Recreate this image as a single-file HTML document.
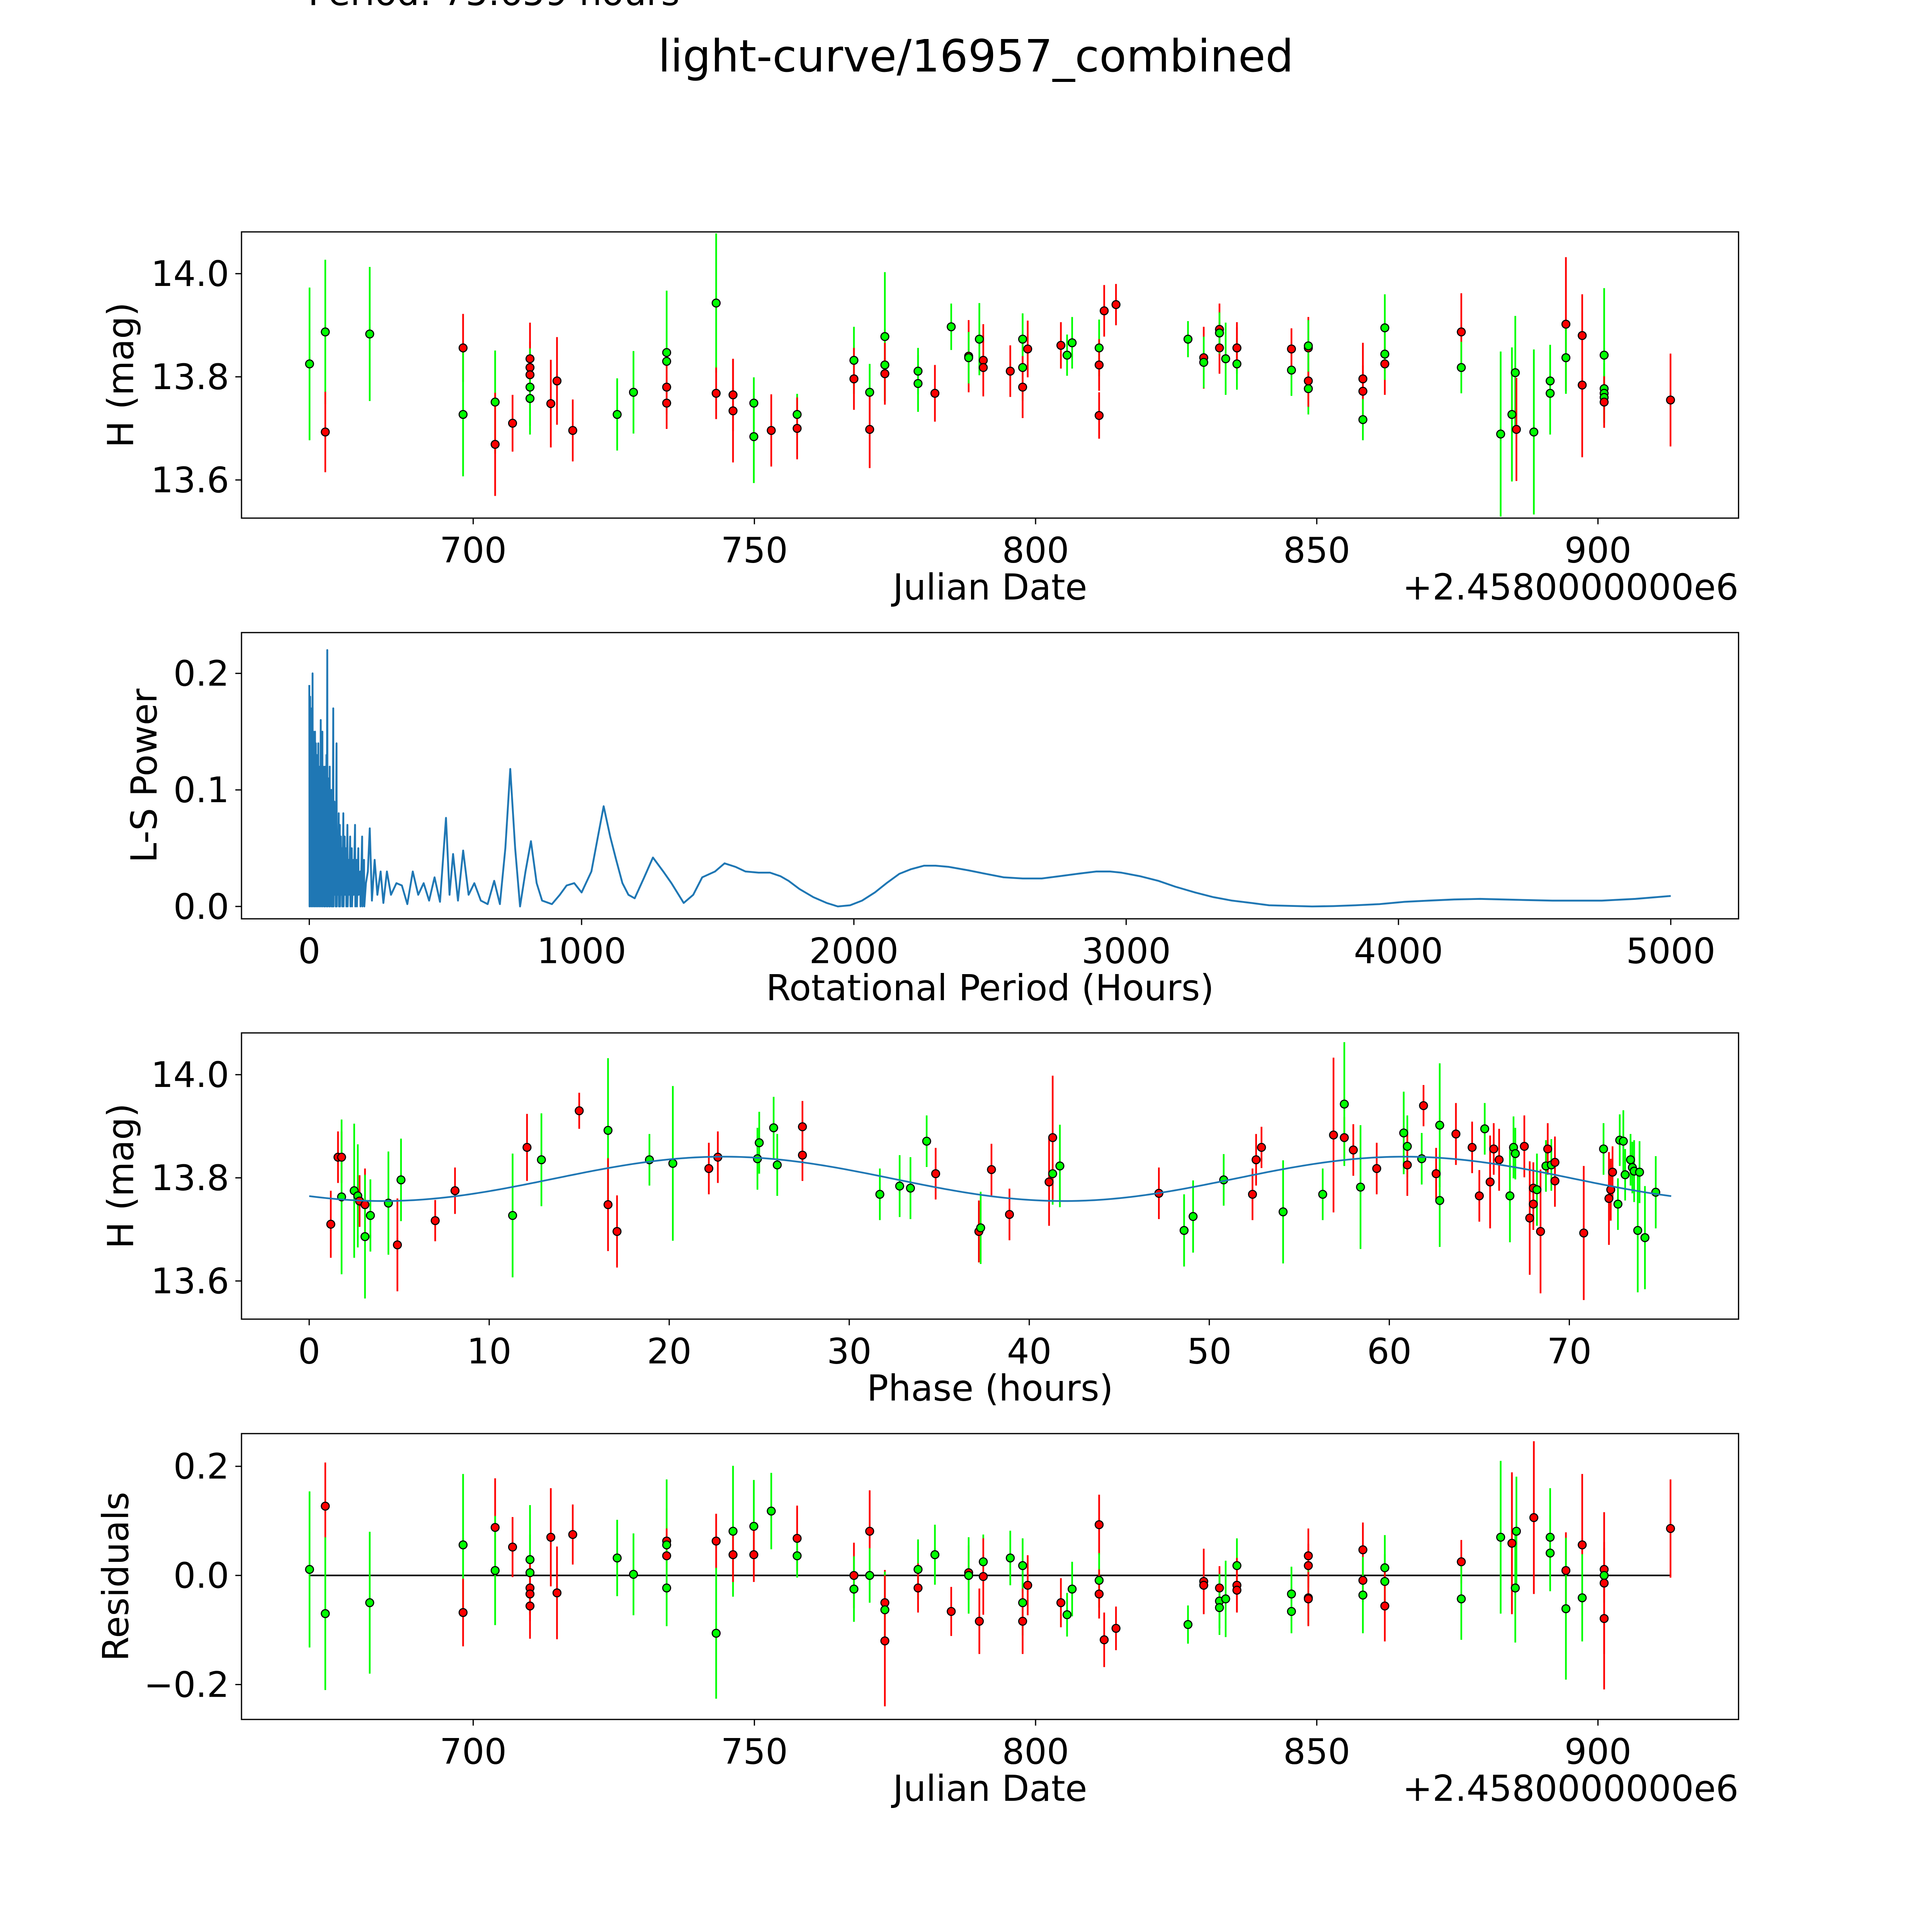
<!DOCTYPE html>
<html><head><meta charset="utf-8"><style>
html,body{margin:0;padding:0;background:#fff;width:100vw;height:100vh;overflow:hidden}
svg{display:block;width:100vw;height:100vh}
text{font-family:"DejaVu Sans","Liberation Sans",sans-serif;fill:#000}
</style></head><body>
<svg id="fig" xmlns="http://www.w3.org/2000/svg" viewBox="0 0 1568 1568" preserveAspectRatio="none">
<rect x="0" y="0" width="1568" height="1568" fill="#fff"/>
<text x="250" y="4" font-size="29">Period: 75.659 hours</text>
<text x="792" y="58" font-size="36" text-anchor="middle">light-curve/16957_combined</text>
<g id="g1"></g>
<g id="g2"></g>
<g id="g3"></g>
<g id="g4"></g>
</svg>
<script>
// ---------- Panel 1: light curve ----------
const dates1 = [670.9,673.7,673.7,681.6,698.2,698.2,703.9,703.9,707.0,710.1,710.1,710.1,710.1,710.1,713.8,714.9,717.7,725.6,728.5,734.4,734.4,734.4,734.4,743.2,743.2,746.2,746.2,749.9,749.9,753.0,757.6,757.6,767.7,767.7,770.5,770.5,773.2,773.2,773.2,779.1,779.1,782.1,785.0,788.1,788.1,790.0,790.7,790.7,795.5,797.7,797.7,797.7,798.6,804.5,805.6,806.5,811.3,811.3,811.3,812.2,814.3,827.1,829.9,829.9,832.7,832.7,832.7,833.8,835.8,835.8,835.8,845.5,845.5,848.5,848.5,848.5,848.5,858.2,858.2,858.2,862.1,862.1,862.1,875.7,875.7,882.7,884.7,885.3,885.5,888.6,891.5,891.5,894.3,894.3,897.2,897.2,901.1,901.1,901.1,901.1,901.1,912.9];
const mags1 = [13.825,13.887,13.693,13.883,13.856,13.727,13.751,13.669,13.710,13.835,13.818,13.804,13.780,13.758,13.748,13.792,13.696,13.727,13.770,13.847,13.830,13.780,13.749,13.943,13.768,13.765,13.734,13.749,13.684,13.696,13.727,13.700,13.832,13.796,13.770,13.698,13.878,13.823,13.806,13.811,13.787,13.768,13.897,13.840,13.837,13.873,13.832,13.818,13.811,13.818,13.873,13.780,13.854,13.861,13.842,13.866,13.856,13.823,13.725,13.928,13.940,13.873,13.837,13.828,13.892,13.856,13.885,13.835,13.856,13.825,13.856,13.813,13.854,13.777,13.856,13.792,13.860,13.796,13.772,13.717,13.895,13.825,13.844,13.887,13.818,13.689,13.727,13.808,13.698,13.693,13.792,13.768,13.902,13.837,13.880,13.784,13.842,13.777,13.768,13.760,13.751,13.755];
const errs1 = [0.148,0.14,0.078,0.13,0.066,0.12,0.1,0.1,0.055,0.07,0.05,0.05,0.075,0.07,0.085,0.085,0.06,0.07,0.08,0.12,0.06,0.05,0.05,0.135,0.05,0.07,0.1,0.05,0.09,0.07,0.04,0.06,0.065,0.06,0.055,0.075,0.125,0.07,0.06,0.045,0.055,0.055,0.045,0.07,0.05,0.07,0.07,0.05,0.05,0.065,0.05,0.06,0.055,0.045,0.04,0.05,0.055,0.05,0.045,0.05,0.04,0.035,0.06,0.05,0.05,0.05,0.04,0.07,0.05,0.05,0.04,0.05,0.04,0.05,0.06,0.05,0.05,0.07,0.05,0.04,0.065,0.06,0.05,0.075,0.05,0.16,0.13,0.11,0.1,0.16,0.07,0.08,0.13,0.07,0.08,0.14,0.13,0.05,0.05,0.05,0.05,0.09];
const cols1 = "ggrgrggrrrrrggrrrggggrrgrrrggrgrgrgrggrggrgrggrrrggrrrgggrrrrgrgrrggrgrgrgrrgrrggrgrggggrgggrgrrggggrrr".split("");
// ---------- Panel 2: periodogram ----------
const periods2 = [0,1,3,4,6,7,9,10,12,13,15,16,18,19,21,22,24,25,27,28,30,31,33,34,36,37,39,40,42,43,45,46,48,49,51,52,54,55,57,58,60,61,63,64,66,67,69,70,72,73,75,76,78,79,81,82,84,85,88,89,92,93,96,97,100,101,104,105,108,109,112,113,116,117,120,121,125,126,130,131,135,136,140,141,145,146,150,151,156,157,162,163,168,169,174,175,180,181,187,188,194,195,201,202,208,215,222,230,240,250,262,272,285,300,320,340,360,380,400,420,440,460,480,502,515,528,546,565,585,606,630,655,679,700,720,738,756,774,794,814,835,855,891,920,945,973,1000,1036,1060,1081,1105,1127,1150,1172,1195,1230,1262,1300,1330,1375,1410,1443,1490,1525,1565,1602,1650,1692,1730,1760,1800,1851,1900,1941,1986,2030,2077,2120,2167,2210,2258,2300,2348,2420,2484,2550,2620,2690,2756,2820,2891,2940,2982,3050,3118,3180,3253,3320,3389,3460,3525,3600,3683,3760,3842,3930,4023,4110,4204,4300,4385,4470,4566,4650,4747,4870,5000];
const power2 = [0.19,0.0,0.18,0.02,0.17,0.0,0.14,0.01,0.2,0.0,0.15,0.01,0.13,0.0,0.15,0.02,0.14,0.0,0.13,0.01,0.12,0.0,0.14,0.02,0.1,0.0,0.12,0.01,0.16,0.0,0.11,0.01,0.15,0.0,0.12,0.01,0.09,0.0,0.12,0.0,0.1,0.02,0.13,0.0,0.22,0.0,0.11,0.01,0.09,0.0,0.12,0.0,0.08,0.01,0.1,0.0,0.07,0.0,0.17,0.0,0.09,0.01,0.07,0.0,0.14,0.0,0.06,0.01,0.08,0.0,0.07,0.0,0.06,0.01,0.05,0.0,0.08,0.0,0.06,0.01,0.05,0.0,0.07,0.0,0.04,0.01,0.06,0.0,0.05,0.0,0.04,0.01,0.07,0.0,0.04,0.0,0.05,0.01,0.03,0.0,0.06,0.0,0.04,0.0,0.02,0.03,0.067,0.005,0.04,0.01,0.03,0.003,0.03,0.01,0.02,0.018,0.002,0.03,0.01,0.02,0.005,0.025,0.004,0.076,0.01,0.045,0.005,0.048,0.01,0.02,0.005,0.002,0.022,0.002,0.05,0.118,0.05,0.0,0.03,0.056,0.02,0.005,0.002,0.01,0.018,0.02,0.012,0.03,0.06,0.086,0.06,0.04,0.02,0.01,0.007,0.025,0.042,0.03,0.02,0.003,0.01,0.025,0.03,0.037,0.034,0.03,0.029,0.029,0.026,0.022,0.015,0.008,0.003,0.0,0.001,0.005,0.012,0.02,0.028,0.032,0.035,0.035,0.034,0.031,0.028,0.025,0.024,0.024,0.026,0.028,0.03,0.03,0.029,0.026,0.022,0.017,0.012,0.008,0.005,0.003,0.001,0.0005,0.0,0.0003,0.001,0.002,0.004,0.005,0.006,0.0065,0.006,0.0055,0.005,0.005,0.005,0.0065,0.009];
// ---------- Panel 3: phased ----------
const phases3 = [1.2,1.6,1.8,1.8,2.5,2.7,2.8,3.1,3.1,3.4,4.4,4.9,5.1,7.0,8.1,11.3,12.1,12.9,15.0,16.6,16.6,17.1,18.9,20.2,22.2,22.7,24.9,25.0,25.8,26.0,27.4,27.4,31.7,32.8,33.4,34.3,34.8,37.2,37.3,37.9,38.9,41.1,41.3,41.3,41.7,47.2,48.6,49.1,50.8,52.4,52.6,52.9,54.1,56.3,56.9,57.5,57.5,58.0,58.4,59.3,60.8,61.0,61.0,61.8,61.9,62.6,62.8,62.8,63.7,64.6,65.0,65.3,65.6,65.8,66.1,66.7,66.9,67.0,67.5,67.8,68.0,68.0,68.2,68.4,68.7,68.8,69.0,69.2,69.2,70.8,71.9,72.2,72.3,72.4,72.7,72.8,73.0,73.1,73.4,73.5,73.6,73.8,73.9,74.2,74.8];
const mags3 = [13.710,13.840,13.840,13.763,13.775,13.765,13.755,13.748,13.686,13.727,13.751,13.670,13.796,13.717,13.775,13.727,13.859,13.835,13.930,13.892,13.748,13.696,13.835,13.828,13.818,13.840,13.837,13.868,13.897,13.825,13.899,13.844,13.768,13.784,13.780,13.871,13.808,13.696,13.703,13.816,13.729,13.792,13.808,13.878,13.823,13.770,13.698,13.725,13.796,13.768,13.835,13.859,13.734,13.768,13.883,13.878,13.943,13.854,13.782,13.818,13.887,13.861,13.825,13.837,13.940,13.808,13.756,13.902,13.885,13.859,13.765,13.895,13.792,13.856,13.835,13.765,13.859,13.847,13.861,13.722,13.780,13.749,13.777,13.696,13.823,13.856,13.825,13.830,13.794,13.693,13.856,13.760,13.777,13.811,13.749,13.873,13.871,13.806,13.835,13.820,13.813,13.698,13.811,13.684,13.772];
const errs3 = [0.065,0.05,0.05,0.15,0.13,0.1,0.05,0.07,0.12,0.07,0.1,0.09,0.08,0.04,0.045,0.12,0.065,0.09,0.035,0.14,0.09,0.07,0.05,0.15,0.05,0.05,0.06,0.06,0.06,0.06,0.05,0.05,0.05,0.06,0.06,0.05,0.05,0.06,0.07,0.05,0.05,0.085,0.06,0.12,0.08,0.05,0.07,0.07,0.05,0.05,0.05,0.04,0.1,0.05,0.15,0.04,0.12,0.05,0.12,0.05,0.08,0.06,0.06,0.05,0.04,0.05,0.09,0.12,0.06,0.05,0.05,0.05,0.09,0.05,0.06,0.09,0.06,0.05,0.06,0.11,0.05,0.05,0.07,0.12,0.05,0.05,0.05,0.05,0.05,0.13,0.05,0.09,0.06,0.05,0.05,0.05,0.06,0.05,0.05,0.05,0.06,0.12,0.06,0.1,0.07];
const cols3 = "rrrgggrrgggrgrrgrgrgrrggrrggggrrggggrrgrrrgrgrgggrrrggrrgrgrggrgrrggrrrgrrrgggrrrrgrgrgrrrgrrrggggg".split("");
const model3 = [13.798,0.043,-2.25,75.659]; // mean, amplitude, phase offset, period
// ---------- Panel 4: residuals ----------
const dates4 = [670.9,673.7,673.7,681.6,698.2,698.2,703.9,703.9,707.0,710.1,710.1,710.1,710.1,710.1,713.8,714.9,717.7,725.6,728.5,734.4,734.4,734.4,734.4,743.2,743.2,746.2,746.2,749.9,749.9,753.0,757.6,757.6,767.7,767.7,770.5,770.5,773.2,773.2,773.2,779.1,779.1,782.1,785.0,788.1,788.1,790.0,790.7,790.7,795.5,797.7,797.7,797.7,798.6,804.5,805.6,806.5,811.3,811.3,811.3,812.2,814.3,827.1,829.9,829.9,832.7,832.7,832.7,833.8,835.8,835.8,835.8,845.5,845.5,848.5,848.5,848.5,848.5,858.2,858.2,858.2,862.1,862.1,862.1,875.7,875.7,882.7,884.7,885.3,885.5,888.6,891.5,891.5,894.3,894.3,897.2,897.2,901.1,901.1,901.1,901.1,912.9];
const resid4 = [0.011,0.127,-0.070,-0.050,0.056,-0.068,0.088,0.009,0.052,0.029,0.005,-0.023,-0.034,-0.056,0.070,-0.032,0.075,0.032,0.002,0.063,0.056,0.036,-0.023,0.063,-0.106,0.081,0.038,0.090,0.038,0.118,0.068,0.036,0.0,-0.025,0.081,0.0,-0.050,-0.063,-0.120,0.011,-0.023,0.038,-0.066,0.005,0.0,-0.084,0.025,-0.002,0.032,0.018,-0.050,-0.084,-0.018,-0.050,-0.072,-0.025,0.093,-0.009,-0.034,-0.118,-0.097,-0.090,-0.011,-0.018,-0.023,-0.047,-0.059,-0.043,0.018,-0.018,-0.027,-0.034,-0.066,0.036,0.018,-0.041,-0.043,0.047,-0.009,-0.036,0.014,-0.011,-0.056,0.025,-0.043,0.070,0.059,-0.023,0.081,0.106,0.070,0.041,0.009,-0.061,0.056,-0.041,0.011,0.0,-0.014,-0.079,0.086];
const errs4 = [0.143,0.08,0.14,0.13,0.13,0.062,0.09,0.1,0.055,0.1,0.07,0.05,0.05,0.06,0.09,0.085,0.055,0.07,0.075,0.06,0.12,0.05,0.07,0.05,0.12,0.12,0.05,0.085,0.05,0.07,0.06,0.04,0.06,0.06,0.075,0.05,0.06,0.07,0.12,0.055,0.045,0.055,0.045,0.05,0.07,0.06,0.05,0.07,0.05,0.05,0.06,0.06,0.055,0.045,0.04,0.05,0.055,0.05,0.045,0.05,0.04,0.035,0.06,0.05,0.04,0.05,0.05,0.07,0.05,0.05,0.04,0.05,0.04,0.05,0.04,0.05,0.05,0.05,0.04,0.07,0.06,0.05,0.065,0.04,0.075,0.14,0.13,0.1,0.1,0.14,0.09,0.07,0.07,0.13,0.13,0.08,0.05,0.05,0.13,0.13,0.09];
const cols4 = "grgggrrgrggrrrrrrggrgrgrggrgrgrgrgrgrgrgrgrrgrgrgggrrrggrgrrrgrrrggggrrggrrgrrrgggrrggrggrggrgrgrgrrrggr".split("");

// ---------- helpers ----------
const NS="http://www.w3.org/2000/svg";
function mk(tag, attrs, parent, txt){const e=document.createElementNS(NS,tag);for(const k in attrs)e.setAttribute(k,attrs[k]);if(txt!==undefined)e.textContent=txt;parent.appendChild(e);return e;}
const X0=196, X1=1411;
function axes(g, top, bot, xmin, xmax, ymin, ymax, xticks, xlabels, yticks, ylabels, xtitle, ytitle, ytitleX, offset){
  const sx=v=>X0+(v-xmin)/(xmax-xmin)*(X1-X0);
  const sy=v=>bot-(v-ymin)/(ymax-ymin)*(bot-top);
  xticks.forEach((t,i)=>{
    const x=sx(t);
    const tk=mk('line',{x1:x,x2:x,y1:bot,y2:bot+5,stroke:'#000','stroke-width':1},g);
    
    
    const tl=mk('text',{x:x,y:bot+36,'font-size':28.5,'text-anchor':'middle'},g,xlabels[i]);
    
    
  });
  yticks.forEach((t,i)=>{
    const y=sy(t);
    const tk=mk('line',{x1:X0-5,x2:X0,y1:y,y2:y,stroke:'#000','stroke-width':1},g);
    
    
    const tl=mk('text',{x:X0-10,y:y+10,'font-size':28.5,'text-anchor':'end'},g,ylabels[i]);
    
    
  });
  const xt=mk('text',{x:(X0+X1)/2,y:bot+66,'font-size':29,'text-anchor':'middle'},g,xtitle);
  
  
  const cy=(top+bot)/2;
  const yt=mk('text',{x:ytitleX,y:cy,'font-size':29,'text-anchor':'middle',transform:'rotate(-90 '+ytitleX+' '+cy+')'},g,ytitle);
  
  
  if(offset){
    const ot=mk('text',{x:X1,y:bot+66,'font-size':29,'text-anchor':'end'},g,offset);
    
    
  }
  return {sx,sy,frame:()=>{const f=mk('rect',{x:X0,y:top,width:X1-X0,height:bot-top,fill:'none',stroke:'#000','stroke-width':1},g);}};
}
function errpts(g, ax, xs, ys, es, cs){
  const layer=mk('g',{},g);
  xs.forEach((xv,i)=>{
    const c=cs[i]==='r'?'#ff0000':'#00ff00';
    const x=ax.sx(xv);
    const eb=mk('line',{x1:x,x2:x,y1:ax.sy(ys[i]-es[i]),y2:ax.sy(ys[i]+es[i]),stroke:c,'stroke-width':1.4},layer);
    
    
  });
  xs.forEach((xv,i)=>{
    const c=cs[i]==='r'?'#ff0000':'#00ff00';
    const p=mk('circle',{cx:ax.sx(xv),cy:ax.sy(ys[i]),r:3.2,fill:c,stroke:'#000','stroke-width':0.9},layer);
    
    
  });
}
const dT=[700,750,800,850,900], dL=['700','750','800','850','900'];
const mT=[13.6,13.8,14.0], mL=['13.6','13.8','14.0'];
// panel 1
const g1=document.getElementById('g1');
const a1=axes(g1,188.2,420.5,658.8,925.0,13.526,14.081,dT,dL,mT,mL,'Julian Date','H (mag)',108,'+2.4580000000e6');
errpts(g1,a1,dates1,mags1,errs1,cols1);
a1.frame();
// panel 2
const g2=document.getElementById('g2');
const a2=axes(g2,513.4,745.7,-249,5249,-0.0106,0.235,[0,1000,2000,3000,4000,5000],['0','1000','2000','3000','4000','5000'],[0,0.1,0.2],['0.0','0.1','0.2'],'Rotational Period (Hours)','L-S Power',127);
let d2='';periods2.forEach((p,i)=>{d2+=(i?'L':'M')+a2.sx(p).toFixed(2)+','+a2.sy(power2[i]).toFixed(2);});
const pl=mk('path',{d:d2,fill:'none',stroke:'#1f77b4','stroke-width':1.5,'stroke-linejoin':'round'},g2);


a2.frame();
// panel 3
const g3=document.getElementById('g3');
const a3=axes(g3,838.3,1070.6,-3.76,79.4,13.526,14.081,[0,10,20,30,40,50,60,70],['0','10','20','30','40','50','60','70'],mT,mL,'Phase (hours)','H (mag)',108);
errpts(g3,a3,phases3,mags3,errs3,cols3);
let d3='';for(let i=0;i<=300;i++){const ph=model3[3]*i/300;const m=model3[0]+model3[1]*Math.sin(4*Math.PI*ph/model3[3]+model3[2]);d3+=(i?'L':'M')+a3.sx(ph).toFixed(2)+','+a3.sy(m).toFixed(2);}
const ml=mk('path',{d:d3,fill:'none',stroke:'#1f77b4','stroke-width':1.4},g3);


a3.frame();
// panel 4
const g4=document.getElementById('g4');
const a4=axes(g4,1163.5,1395.5,658.8,925.0,-0.264,0.260,dT,dL,[-0.2,0,0.2],['\u22120.2','0.0','0.2'],'Julian Date','Residuals',104,'+2.4580000000e6');
const zl=mk('line',{x1:a4.sx(dates4[0]),x2:a4.sx(dates4[dates4.length-1]),y1:a4.sy(0),y2:a4.sy(0),stroke:'#000','stroke-width':1.3},g4);


errpts(g4,a4,dates4,resid4,errs4,cols4);
a4.frame();
</script>
</body></html>
